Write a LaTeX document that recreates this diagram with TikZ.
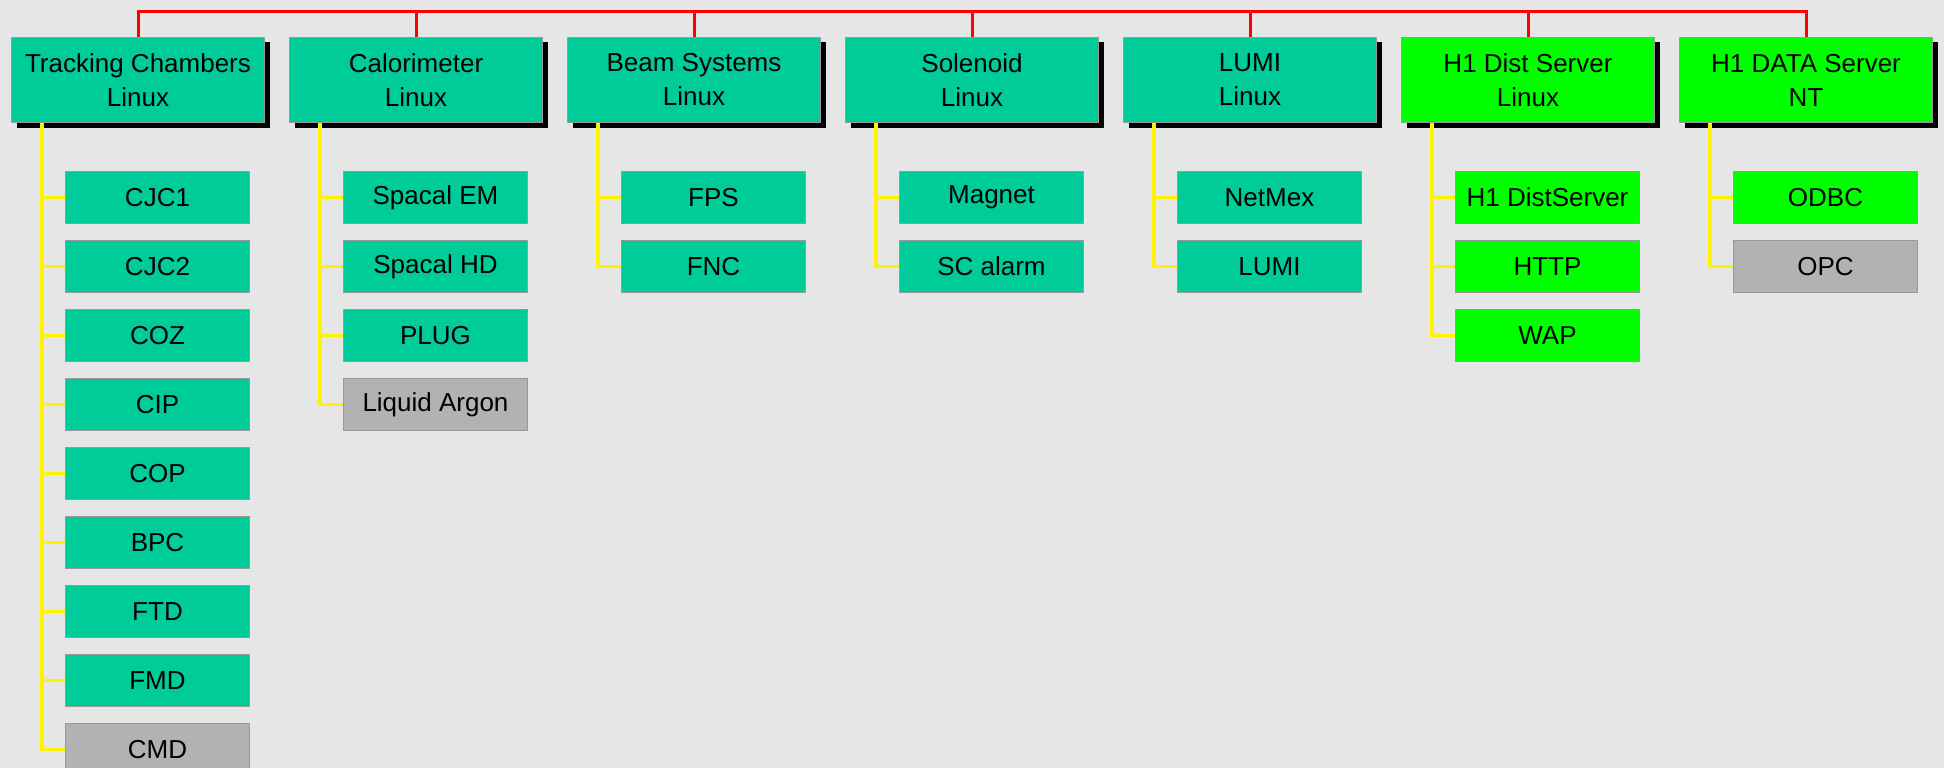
\documentclass[tikz,border=0pt]{standalone}
\usepackage{fontspec}
\setmainfont{Liberation Sans}
\usetikzlibrary{positioning,shadows,calc}
\definecolor{h1teal}{HTML}{00CC99}
\definecolor{h1green}{HTML}{00FF00}
\definecolor{h1gray}{HTML}{B2B2B2}
\definecolor{canvas}{HTML}{E6E6E6}
\definecolor{edge}{HTML}{999999}
\tikzset{
  serverbox/.style={
    rectangle, draw=edge, fill=#1, line width=1pt,
    minimum width=253pt, minimum height=85pt,
    font=\fontsize{26}{34}\selectfont, align=center,
    inner sep=2pt,
    drop shadow={shadow xshift=5pt, shadow yshift=-5pt, fill=black, opacity=1}
  },
  serverbox/.default=h1teal,
  subbox/.style={
    rectangle, draw=edge, fill=#1, line width=1pt,
    minimum width=184pt, minimum height=52pt,
    font=\fontsize{26}{34}\selectfont, align=center,
    inner sep=2pt
  },
  subbox/.default=h1teal,
  busline/.style={draw=red, line width=3pt},
  linkline/.style={draw=yellow, line width=3.2pt},
}

\begin{document}
\begin{tikzpicture}[x=1pt, y=1pt, node distance=16pt and 24pt]
  \useasboundingbox (0,0) rectangle (1944,-768);
  \fill[canvas] (0,0) rectangle (1944,-768);

  % Servers
  \node[serverbox, anchor=north west] (tc) at (11,-37) {Tracking Chambers\\Linux};
  \node[serverbox, right=of tc] (cal) {Calorimeter\\Linux};
  \node[serverbox, right=of cal] (beam) {Beam Systems\\Linux};
  \node[serverbox, right=of beam] (sol) {Solenoid\\Linux};
  \node[serverbox, right=of sol] (lumi) {LUMI\\Linux};
  \node[serverbox=h1green, right=of lumi] (dist) {H1 Dist Server\\Linux};
  \node[serverbox=h1green, right=of dist] (data) {H1 DATA Server\\NT};

  % Bus
  \coordinate (bus) at (0,-12);
  \draw[busline] (tc.north) -- (tc.north |- bus) -- (data.north |- bus) -- (data.north);
  \foreach \s in {cal,beam,sol,lumi,dist} { \draw[busline] (\s.north) -- (\s.north |- bus); }

  % Tracking Chambers
  \node[subbox, below right=48pt and 54pt of tc.south west] (cjc1) {CJC1};
  \node[subbox, below=of cjc1] (cjc2) {CJC2};
  \node[subbox, below=of cjc2] (coz) {COZ};
  \node[subbox, below=of coz] (cip) {CIP};
  \node[subbox, below=of cip] (cop) {COP};
  \node[subbox, below=of cop] (bpc) {BPC};
  \node[subbox, below=of bpc] (ftd) {FTD};
  \node[subbox, below=of ftd] (fmd) {FMD};
  \node[subbox=h1gray, below=of fmd] (cmd) {CMD};
  \foreach \s in {cjc1,cjc2,coz,cip,cop,bpc,ftd,fmd,cmd} { \draw[linkline] ($(tc.south west)+(31,0)$) |- (\s.west); }

  % Calorimeter
  \node[subbox, below right=48pt and 54pt of cal.south west] (spem) {Spacal EM};
  \node[subbox, below=of spem] (sphd) {Spacal HD};
  \node[subbox, below=of sphd] (plug) {PLUG};
  \node[subbox=h1gray, below=of plug] (lar) {Liquid Argon};
  \foreach \s in {spem,sphd,plug,lar} { \draw[linkline] ($(cal.south west)+(31,0)$) |- (\s.west); }

  % Beam Systems
  \node[subbox, below right=48pt and 54pt of beam.south west] (fps) {FPS};
  \node[subbox, below=of fps] (fnc) {FNC};
  \foreach \s in {fps,fnc} { \draw[linkline] ($(beam.south west)+(31,0)$) |- (\s.west); }

  % Solenoid
  \node[subbox, below right=48pt and 54pt of sol.south west] (magnet) {Magnet};
  \node[subbox, below=of magnet] (scalarm) {SC alarm};
  \foreach \s in {magnet,scalarm} { \draw[linkline] ($(sol.south west)+(31,0)$) |- (\s.west); }

  % LUMI
  \node[subbox, below right=48pt and 54pt of lumi.south west] (netmex) {NetMex};
  \node[subbox, below=of netmex] (lumisub) {LUMI};
  \foreach \s in {netmex,lumisub} { \draw[linkline] ($(lumi.south west)+(31,0)$) |- (\s.west); }

  % H1 Dist Server
  \node[subbox=h1green, below right=48pt and 54pt of dist.south west] (distsrv) {H1 DistServer};
  \node[subbox=h1green, below=of distsrv] (http) {HTTP};
  \node[subbox=h1green, below=of http] (wap) {WAP};
  \foreach \s in {distsrv,http,wap} { \draw[linkline] ($(dist.south west)+(31,0)$) |- (\s.west); }

  % H1 DATA Server
  \node[subbox=h1green, below right=48pt and 54pt of data.south west] (odbc) {ODBC};
  \node[subbox=h1gray, below=of odbc] (opc) {OPC};
  \foreach \s in {odbc,opc} { \draw[linkline] ($(data.south west)+(31,0)$) |- (\s.west); }
\end{tikzpicture}
\end{document}
